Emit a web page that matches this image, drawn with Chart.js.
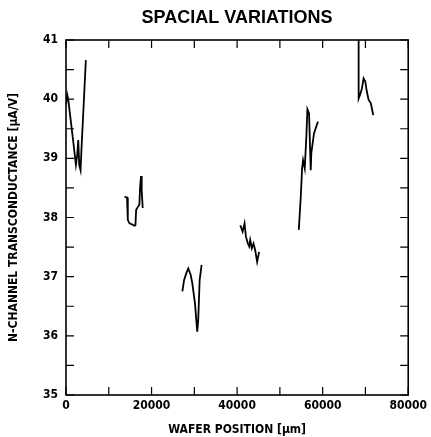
<!DOCTYPE html>
<html>
<head>
<meta charset="utf-8">
<script src="https://cdn.jsdelivr.net/npm/chart.js@4/dist/chart.umd.min.js"></script>
<style>
body{margin:0;background:#fff}
#wrap{width:431px;height:437px}
</style>
</head>
<body>
<div id="wrap"><canvas id="chart" width="431" height="437"></canvas></div>
<script>
// wafer position (um) and n-channel transconductance (uA/V), one pair per scan segment
const pos1=[0,300,530,1700,2320,2630,2860,3090,3400,3630,4640];
const gm1=[39.91,40.07,39.99,39.28,38.89,39.06,39.31,38.89,38.80,39.17,40.66];
const pos2=[13680,14260,14450,14840,15540,16000,16230,16400,16810,17160,17320,17550,17700,17930];
const gm2=[38.35,38.34,37.96,37.90,37.88,37.86,37.87,38.13,38.18,38.22,38.52,38.70,38.45,38.16];
const pos3=[27200,27600,28130,28590,29150,29520,30150,30680,30910,31240,31700];
const gm3=[36.75,36.94,37.06,37.14,37.03,36.89,36.55,36.07,36.27,36.94,37.20];
const pos4=[40740,41280,41740,42050,42510,42830,43060,43440,43830,44220,44680,45150];
const gm4=[37.87,37.76,37.90,37.68,37.56,37.51,37.62,37.48,37.56,37.45,37.25,37.42];
const pos5=[54420,54880,55190,55420,55810,56190,56430,56820,57210,57350,57970,58900];
const gm5=[37.79,38.35,38.83,38.97,38.83,39.37,39.83,39.76,38.80,39.09,39.42,39.62];
const pos6=[68410,68410,68720,69180,69570,69960,70270,70730,71260,71820];
const gm6=[41.00,40.01,40.07,40.18,40.35,40.30,40.15,39.99,39.93,39.73];

const xMin=0, xMax=80000, xStep=10000, xLabelStep=20000;
const yMin=35, yMax=41, yStep=0.5;

const segments=[[pos1,gm1],[pos2,gm2],[pos3,gm3],[pos4,gm4],[pos5,gm5],[pos6,gm6]];

const narrow='"Liberation Sans Narrow", "DejaVu Sans Condensed", "Liberation Sans", sans-serif';

// frame box and inward tick marks on all four sides
const frame={
  id:'frame',
  afterDraw(c){
    const ctx=c.ctx, a=c.chartArea, sx=c.scales.x, sy=c.scales.y;
    ctx.save();
    ctx.strokeStyle='#000';
    ctx.lineWidth=1.6;
    ctx.strokeRect(a.left,a.top,a.right-a.left,a.bottom-a.top);
    ctx.lineWidth=1.2;
    ctx.beginPath();
    sx.ticks.forEach(t=>{
      const px=sx.getPixelForValue(t.value);
      ctx.moveTo(px,a.bottom);ctx.lineTo(px,a.bottom-8);
      ctx.moveTo(px,a.top);ctx.lineTo(px,a.top+8);
    });
    sy.ticks.forEach(t=>{
      const py=sy.getPixelForValue(t.value);
      ctx.moveTo(a.left,py);ctx.lineTo(a.left+8,py);
      ctx.moveTo(a.right,py);ctx.lineTo(a.right-8,py);
    });
    ctx.stroke();
    ctx.restore();
  }
};

new Chart(document.getElementById('chart'),{
  type:'scatter',
  data:{
    datasets:segments.map(s=>({
      data:s[0].map((x,i)=>({x:x,y:s[1][i]})),
      showLine:true,
      borderColor:'#000',
      borderWidth:1.8,
      pointRadius:0,
      tension:0
    }))
  },
  options:{
    responsive:false,
    animation:false,
    layout:{padding:{left:7,right:21,top:0,bottom:0}},
    plugins:{
      legend:{display:false},
      tooltip:{enabled:false},
      title:{
        display:true,
        fullSize:false,
        text:'SPACIAL VARIATIONS',
        color:'#000',
        font:{family:'"Liberation Sans", Arial, sans-serif',size:18,weight:'bold'},
        padding:{top:7,bottom:11.4}
      }
    },
    scales:{
      x:{
        type:'linear',
        min:xMin,max:xMax,
        afterFit(s){s.height=42;},
        ticks:{
          stepSize:xStep,
          autoSkip:false,
          maxRotation:0,
          padding:4,
          color:'#000',
          font:{family:narrow,size:12,weight:'bold'},
          callback:v=>v%xLabelStep===0?String(v):''
        },
        grid:{drawOnChartArea:false,drawTicks:false},
        border:{display:false},
        title:{
          display:true,
          text:'WAFER POSITION [μm]',
          color:'#000',
          font:{family:narrow,size:12,weight:'bold'},
          padding:{top:6,bottom:0}
        }
      },
      y:{
        min:yMin,max:yMax,
        afterFit(s){s.width=59;},
        ticks:{
          stepSize:yStep,
          autoSkip:false,
          padding:8,
          color:'#000',
          font:{family:narrow,size:12,weight:'bold'},
          callback:v=>Number.isInteger(v)?String(v):''
        },
        grid:{drawOnChartArea:false,drawTicks:false},
        border:{display:false},
        title:{
          display:true,
          text:'N-CHANNEL TRANSCONDUCTANCE [μA/V]',
          color:'#000',
          font:{family:narrow,size:12,weight:'bold'},
          padding:{top:0,bottom:0}
        }
      }
    }
  },
  plugins:[frame]
});
</script>
</body>
</html>
